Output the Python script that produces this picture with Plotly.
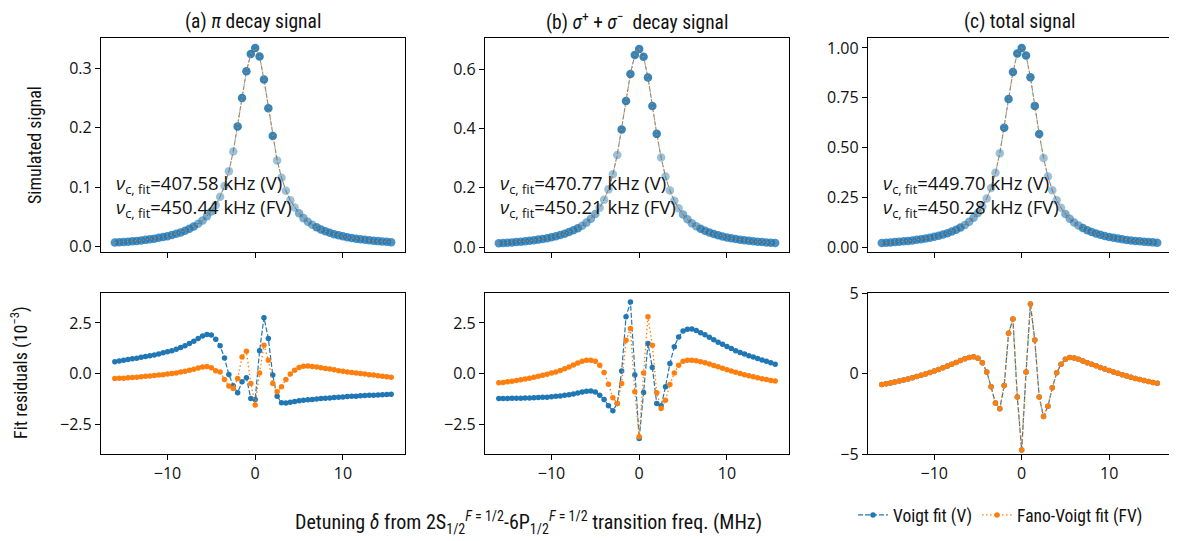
import plotly.graph_objects as go

# ---------------- data ----------------
detuning = [-16.0, -15.5, -15.0, -14.5, -14.0, -13.5, -13.0, -12.5, -12.0, -11.5, -11.0, -10.5,
            -10.0, -9.5, -9.0, -8.5, -8.0, -7.5, -7.0, -6.5, -6.0, -5.5, -5.0, -4.5,
            -4.0, -3.5, -3.0, -2.5, -2.0, -1.5, -1.0, -0.5, 0.0, 0.5, 1.0, 1.5,
            2.0, 2.5, 3.0, 3.5, 4.0, 4.5, 5.0, 5.5, 6.0, 6.5, 7.0, 7.5,
            8.0, 8.5, 9.0, 9.5, 10.0, 10.5, 11.0, 11.5, 12.0, 12.5, 13.0, 13.5,
            14.0, 14.5, 15.0, 15.5]

signal_pi = [0.0068, 0.0073, 0.0078, 0.0084, 0.0090, 0.0097, 0.0105, 0.0114, 0.0124, 0.0135, 0.0148, 0.0162,
             0.0177, 0.0195, 0.0216, 0.0240, 0.0268, 0.0300, 0.0340, 0.0385, 0.0440, 0.0510, 0.0590, 0.0700,
             0.0840, 0.1020, 0.1270, 0.1600, 0.2020, 0.2500, 0.2950, 0.3240, 0.3340, 0.3200, 0.2810, 0.2330,
             0.1860, 0.1450, 0.1160, 0.0940, 0.0780, 0.0660, 0.0560, 0.0480, 0.0420, 0.0368, 0.0326, 0.0290,
             0.0259, 0.0233, 0.0210, 0.0191, 0.0174, 0.0159, 0.0146, 0.0134, 0.0124, 0.0115, 0.0107, 0.0099,
             0.0093, 0.0087, 0.0081, 0.0076]

signal_sigma = [0.0136, 0.0145, 0.0154, 0.0164, 0.0176, 0.0189, 0.0203, 0.0219, 0.0237, 0.0257, 0.0280, 0.0306,
                0.0336, 0.0370, 0.0410, 0.0456, 0.0510, 0.0570, 0.0640, 0.0725, 0.0830, 0.0960, 0.1120, 0.1330,
                0.1600, 0.1950, 0.2460, 0.3110, 0.3970, 0.4930, 0.5840, 0.6480, 0.6680, 0.6420, 0.5720, 0.4760,
                0.3820, 0.3020, 0.2380, 0.1910, 0.1570, 0.1310, 0.1100, 0.0940, 0.0810, 0.0710, 0.0625, 0.0555,
                0.0495, 0.0445, 0.0402, 0.0364, 0.0331, 0.0302, 0.0277, 0.0254, 0.0234, 0.0217, 0.0201, 0.0187,
                0.0174, 0.0163, 0.0153, 0.0144]

signal_total = [0.0204, 0.0218, 0.0232, 0.0248, 0.0266, 0.0286, 0.0308, 0.0333, 0.0361, 0.0392, 0.0428, 0.0468,
                0.0513, 0.0565, 0.0626, 0.0696, 0.0778, 0.0870, 0.0980, 0.1110, 0.1270, 0.1470, 0.1710, 0.2030,
                0.2440, 0.2970, 0.3730, 0.4710, 0.5990, 0.7430, 0.8790, 0.9720, 1.0000, 0.9620, 0.8530, 0.7090,
                0.5680, 0.4470, 0.3540, 0.2850, 0.2350, 0.1970, 0.1660, 0.1420, 0.1230, 0.1078, 0.0951, 0.0845,
                0.0754, 0.0678, 0.0612, 0.0555, 0.0505, 0.0461, 0.0423, 0.0388, 0.0358, 0.0332, 0.0308, 0.0286,
                0.0267, 0.0250, 0.0234, 0.0220]

# fit residuals, units of 1e-3
resid_pi_V = [0.58, 0.62, 0.66, 0.69, 0.73, 0.76, 0.80, 0.84, 0.88, 0.92, 0.97, 1.02,
              1.07, 1.13, 1.20, 1.28, 1.37, 1.48, 1.60, 1.73, 1.86, 1.93, 1.90, 1.69,
              1.37, 0.77, -0.05, -0.60, -0.95, -0.41, -0.21, -1.23, -1.28, 1.12, 2.76, 1.73,
              -0.08, -1.12, -1.45, -1.46, -1.42, -1.38, -1.35, -1.32, -1.30, -1.28, -1.26, -1.24,
              -1.22, -1.21, -1.19, -1.17, -1.16, -1.14, -1.13, -1.12, -1.10, -1.09, -1.08, -1.07,
              -1.06, -1.05, -1.04, -1.03]
resid_pi_FV = [-0.25, -0.24, -0.23, -0.21, -0.20, -0.18, -0.16, -0.14, -0.12, -0.10, -0.08, -0.06,
               -0.03, 0.00, 0.03, 0.07, 0.11, 0.16, 0.21, 0.27, 0.32, 0.34, 0.29, 0.13,
               0.08, -0.30, -0.62, -0.74, -0.25, 0.82, 1.10, -0.49, -1.56, 0.03, 1.40, 0.66,
               -0.49, -0.90, -0.66, -0.30, -0.03, 0.16, 0.30, 0.36, 0.37, 0.35, 0.32, 0.29,
               0.25, 0.22, 0.18, 0.14, 0.11, 0.08, 0.05, 0.02, 0.00, -0.03, -0.06, -0.08,
               -0.11, -0.13, -0.16, -0.18]

resid_sigma_V = [-1.23, -1.23, -1.23, -1.22, -1.22, -1.22, -1.21, -1.21, -1.20, -1.19, -1.18, -1.17,
                 -1.15, -1.13, -1.11, -1.08, -1.05, -1.01, -0.97, -0.92, -0.88, -0.87, -0.91, -1.07,
                 -1.28, -1.60, -1.84, -1.48, 0.12, 2.80, 3.54, -0.08, -3.21, -0.94, 1.48, 0.30,
                 -1.48, -1.60, -0.66, 0.49, 1.32, 1.81, 2.10, 2.19, 2.20, 2.12, 2.02, 1.91,
                 1.79, 1.67, 1.55, 1.44, 1.33, 1.23, 1.13, 1.04, 0.96, 0.88, 0.81, 0.74,
                 0.67, 0.60, 0.53, 0.46]
resid_sigma_FV = [-0.46, -0.44, -0.41, -0.38, -0.34, -0.31, -0.27, -0.23, -0.19, -0.14, -0.09, -0.04,
                  0.02, 0.08, 0.15, 0.23, 0.32, 0.42, 0.52, 0.61, 0.66, 0.66, 0.61, 0.41,
                  0.05, -0.53, -1.20, -1.48, -0.49, 1.64, 2.22, -0.90, -3.13, 0.03, 2.80, 1.40,
                  -0.95, -1.73, -1.32, -0.54, 0.03, 0.41, 0.61, 0.66, 0.66, 0.63, 0.58, 0.53,
                  0.47, 0.40, 0.33, 0.26, 0.19, 0.12, 0.06, 0.00, -0.06, -0.11, -0.16, -0.21,
                  -0.26, -0.30, -0.34, -0.37]

resid_total_V = [-0.69, -0.64, -0.59, -0.53, -0.47, -0.41, -0.34, -0.27, -0.19, -0.11, -0.03, 0.06,
                 0.15, 0.25, 0.35, 0.46, 0.57, 0.68, 0.80, 0.91, 1.00, 1.04, 0.94, 0.67,
                 0.10, -0.83, -1.83, -2.19, -0.75, 2.50, 3.38, -1.46, -4.75, 0.10, 4.31, 2.08,
                 -1.46, -2.67, -2.04, -0.88, 0.04, 0.58, 0.88, 1.00, 0.97, 0.88, 0.77, 0.67,
                 0.58, 0.48, 0.38, 0.28, 0.19, 0.10, 0.01, -0.07, -0.15, -0.23, -0.31, -0.38,
                 -0.44, -0.50, -0.56, -0.61]
resid_total_FV = [-0.69, -0.64, -0.59, -0.53, -0.47, -0.41, -0.34, -0.27, -0.19, -0.11, -0.03, 0.06,
                  0.15, 0.25, 0.35, 0.46, 0.57, 0.68, 0.80, 0.91, 1.00, 1.04, 0.94, 0.67,
                  0.10, -0.83, -1.83, -2.19, -0.75, 2.50, 3.38, -1.46, -4.75, 0.10, 4.31, 2.08,
                  -1.46, -2.67, -2.04, -0.88, 0.04, 0.58, 0.88, 1.00, 0.97, 0.88, 0.77, 0.67,
                  0.58, 0.48, 0.38, 0.28, 0.19, 0.10, 0.01, -0.07, -0.15, -0.23, -0.31, -0.38,
                  -0.44, -0.50, -0.56, -0.61]

panel_titles = ["(a) <i>π</i> decay signal",
                "(b) <i>σ</i><sup>+</sup> + <i>σ</i><sup>−</sup>  decay signal",
                "(c) total signal"]
fit_V = ["407.58", "470.77", "449.70"]
fit_FV = ["450.44", "450.21", "450.28"]

signals = [signal_pi, signal_sigma, signal_total]
resid_V = [resid_pi_V, resid_sigma_V, resid_total_V]
resid_FV = [resid_pi_FV, resid_sigma_FV, resid_total_FV]

# ---------------- style / layout ----------------
OFF = 8                       # page body margin of the html page
W, H = 1177 - OFF, 541 - OFF  # figure size so that it fills the window
BLUE = "#1f77b4"
ORANGE = "#ff7f0e"
TICKFONT = dict(family="Open Sans, DejaVu Sans, sans-serif", size=16, color="#111")
CONDFONT = "Liberation Sans Narrow, Roboto Condensed, Roboto, sans-serif"

# positions given in window pixels
col_px = [(101, 405), (485, 789), (868, 1171)]
top_px = (38, 252)
bot_px = (293, 454)

def px_x(p):
    return (p - OFF) / W

def px_y(p):
    return 1 - (p - OFF) / H

def xd(p):
    return [px_x(p[0]), px_x(p[1])]

def yd(p):
    return [px_y(p[1]), px_y(p[0])]

top_ranges = [[-0.009, 0.351], [-0.016, 0.705], [-0.025, 1.05]]
top_dtick = [0.1, 0.2, 0.25]
top_fmt = [".1f", ".1f", ".2f"]
bot_ranges = [[-3.98, 3.98], [-3.98, 3.98], [-5, 5]]
bot_dtick = [2.5, 2.5, 5]
bot_fmt = [".1f", ".1f", "d"]
xrange_ = [-17.575, 17.075]

fig = go.Figure()
layout = dict(width=W, height=H, margin=dict(l=0, r=0, t=0, b=0, autoexpand=False),
              paper_bgcolor="white", plot_bgcolor="white", showlegend=True)

axis_common = dict(showline=True, linecolor="black", linewidth=1.3, mirror=True,
                   ticks="outside", ticklen=5, tickwidth=1.3, tickcolor="black",
                   showgrid=False, zeroline=False, tickfont=TICKFONT, automargin=False)

def opacity_for(x):
    a = abs(x)
    if a <= 2.0:
        return 0.9
    if a < 5.0:
        return 0.45
    if a < 7.0:
        return 0.6
    return 0.8

annotations = []
for i in range(3):
    t = i + 1
    b = i + 4
    tx = "x" if t == 1 else f"x{t}"
    ty = "y" if t == 1 else f"y{t}"
    bx = f"x{b}"
    by = f"y{b}"
    layout["xaxis" if t == 1 else f"xaxis{t}"] = dict(axis_common, domain=xd(col_px[i]), anchor=ty,
                                                      range=xrange_, tickvals=[-10, 0, 10], showticklabels=False)
    layout["yaxis" if t == 1 else f"yaxis{t}"] = dict(axis_common, domain=yd(top_px), anchor=tx,
                                                      range=top_ranges[i], dtick=top_dtick[i], tick0=0,
                                                      tickformat=top_fmt[i])
    layout[f"xaxis{b}"] = dict(axis_common, domain=xd(col_px[i]), anchor=by, range=xrange_,
                               tickvals=[-10, 0, 10])
    layout[f"yaxis{b}"] = dict(axis_common, domain=yd(bot_px), anchor=bx, range=bot_ranges[i],
                               dtick=bot_dtick[i], tick0=0, tickformat=bot_fmt[i])

    sig = signals[i]
    opac = [opacity_for(x) for x in detuning]
    fig.add_trace(go.Scatter(x=detuning, y=sig, mode="markers", xaxis=tx, yaxis=ty, showlegend=False,
                             marker=dict(size=8.5, color=BLUE, opacity=opac, line=dict(width=0))))
    fig.add_trace(go.Scatter(x=detuning, y=sig, mode="lines", xaxis=tx, yaxis=ty, showlegend=False,
                             line=dict(color=BLUE, width=1, dash="5px,2px"), opacity=0.8))
    fig.add_trace(go.Scatter(x=detuning, y=sig, mode="lines", xaxis=tx, yaxis=ty, showlegend=False,
                             line=dict(color=ORANGE, width=1.2, dash="1.5px,2.5px"), opacity=0.9))

    fig.add_trace(go.Scatter(x=detuning, y=resid_V[i], mode="lines+markers", xaxis=bx, yaxis=by,
                             name="Voigt fit (V)", showlegend=(i == 0),
                             line=dict(color=BLUE, width=1.2, dash="5px,2px"),
                             marker=dict(size=5.5, color=BLUE)))
    fig.add_trace(go.Scatter(x=detuning, y=resid_FV[i], mode="lines+markers", xaxis=bx, yaxis=by,
                             name="Fano-Voigt fit (FV)", showlegend=(i == 0),
                             line=dict(color=ORANGE, width=1.3, dash="1.5px,2.5px"),
                             marker=dict(size=5.5, color=ORANGE)))

    cx = px_x((col_px[i][0] + col_px[i][1]) / 2)
    annotations.append(dict(text=panel_titles[i], x=cx, y=px_y(21), xref="paper", yref="paper",
                            xanchor="center", yanchor="middle", showarrow=False,
                            font=dict(family=CONDFONT, size=19.5, color="#111")))
    ref_x = "x domain" if t == 1 else f"x{t} domain"
    ref_y = "y domain" if t == 1 else f"y{t} domain"
    annotations.append(dict(text=(f"<i>ν</i><sub>c, fit</sub>={fit_V[i]} kHz (V)<br>"
                                  f"<i>ν</i><sub>c, fit</sub>={fit_FV[i]} kHz (FV)"),
                            x=0.043, y=(252 - 196) / 214, align="left",
                            xref=ref_x, yref=ref_y, xanchor="left", yanchor="middle", showarrow=False,
                            font=dict(family="Open Sans, sans-serif", size=18.5, color="#111")))

annotations.append(dict(text="Simulated signal", x=px_x(35), y=px_y(145), xref="paper", yref="paper",
                        textangle=-90, showarrow=False, xanchor="center", yanchor="middle",
                        font=dict(family=CONDFONT, size=18, color="#111")))
annotations.append(dict(text="Fit residuals (10<sup>−3</sup>)", x=px_x(19), y=px_y(373), xref="paper",
                        yref="paper", textangle=-90, showarrow=False, xanchor="center", yanchor="middle",
                        font=dict(family=CONDFONT, size=18, color="#111")))
annotations.append(dict(text="Detuning <i>δ</i> from 2S<sub>1/2</sub><sup><i>F</i> = 1/2</sup>-6P<sub>1/2</sub><sup><i>F</i> = 1/2</sup> transition freq. (MHz)",
                        x=px_x(528), y=px_y(522), xref="paper", yref="paper", showarrow=False,
                        xanchor="center", yanchor="middle",
                        font=dict(family=CONDFONT, size=20, color="#111")))

layout["annotations"] = annotations
layout["legend"] = dict(orientation="h", x=px_x(853), y=px_y(497), xanchor="left", yanchor="top",
                        bgcolor="rgba(0,0,0,0)",
                        font=dict(family=CONDFONT, size=17.5, color="#111"))
fig.update_layout(**layout)
fig.write_html("out.html")
